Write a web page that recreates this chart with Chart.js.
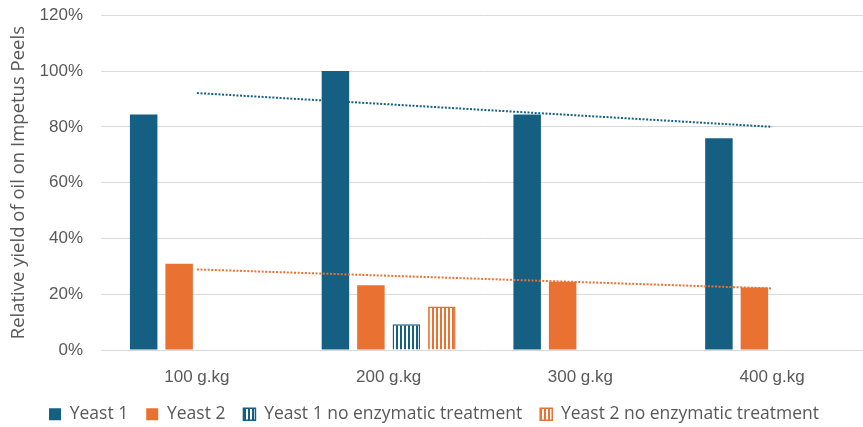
<!DOCTYPE html>
<html><head><meta charset="utf-8">
<script src="https://cdn.jsdelivr.net/npm/chart.js@4"></script>
<style>
html,body{margin:0;padding:0;background:#fff;overflow:hidden}
#wrap{width:863px;height:427px;overflow:hidden;position:relative}
#box{width:873px;height:440px;position:absolute;left:0;top:-13px}
</style></head><body>
<div id="wrap"><div id="box"><canvas id="c"></canvas></div></div>
<script>
const categories = ['100 g.kg', '200 g.kg', '300 g.kg', '400 g.kg'];
const yeast1 = [84.4, 100, 84.4, 75.9];
const yeast2 = [30.9, 23.2, 24.5, 22.4];
const yeast1NoEnz = [null, 9.3, null, null];
const yeast2NoEnz = [null, 15.6, null, null];
const trendYeast1 = [92.1, null, null, 80.0];
const trendYeast2 = [28.9, null, null, 22.1];
const yMin = 0, yMax = 120, yStep = 20;

const BLUE = '#156082', ORANGE = '#E97132', TEXT = '#595959';
function stripes(color) {
  const c = document.createElement('canvas');
  c.width = 4; c.height = 4;
  const x = c.getContext('2d');
  x.fillStyle = '#ffffff'; x.fillRect(0, 0, 4, 4);
  x.fillStyle = color; x.fillRect(0, 0, 2, 4);
  return x.createPattern(c, 'repeat');
}
Chart.defaults.font.family = "'Liberation Sans', Arial, sans-serif";
Chart.defaults.color = TEXT;
const WIDE = "'Open Sans', 'Liberation Sans', sans-serif";

new Chart(document.getElementById('c'), {
  type: 'bar',
  data: {
    labels: categories,
    datasets: [
      { label: 'Yeast 1', data: yeast1, backgroundColor: BLUE, borderWidth: 0, order: 1 },
      { label: 'Yeast 2', data: yeast2, backgroundColor: ORANGE, borderWidth: 0, order: 1 },
      { label: 'Yeast 1 no enzymatic treatment', data: yeast1NoEnz, backgroundColor: stripes(BLUE), borderColor: BLUE, borderWidth: 1.5, order: 1 },
      { label: 'Yeast 2 no enzymatic treatment', data: yeast2NoEnz, backgroundColor: stripes(ORANGE), borderColor: ORANGE, borderWidth: 1.5, order: 1 },
      { type: 'line', label: 'Linear (Yeast 1)', data: trendYeast1, borderColor: BLUE, borderWidth: 2, borderDash: [2, 1.6], pointRadius: 0, spanGaps: true, fill: false, order: 0 },
      { type: 'line', label: 'Linear (Yeast 2)', data: trendYeast2, borderColor: ORANGE, borderWidth: 2, borderDash: [2, 1.6], pointRadius: 0, spanGaps: true, fill: false, order: 0 }
    ]
  },
  options: {
    responsive: true,
    maintainAspectRatio: false,
    animation: false,
    datasets: { bar: { barPercentage: 0.775, categoryPercentage: 0.74 } },
    layout: { padding: { left: 0, right: 5, top: 0, bottom: -6 } },
    plugins: {
      tooltip: { enabled: false },
      legend: {
        position: 'bottom',
        labels: {
          boxWidth: 12, boxHeight: 12, padding: 18,
          font: { size: 17.5, family: WIDE }, color: TEXT,
          filter: (item) => item.datasetIndex < 4
        }
      }
    },
    scales: {
      x: {
        afterFit: (s) => { s.height = s.height - 17; },
        grid: { display: false, drawTicks: false },
        border: { display: false },
        ticks: { font: { size: 17 }, color: TEXT, padding: 17 }
      },
      y: {
        min: yMin, max: yMax,
        afterFit: (s) => { s.width = 101; },
        ticks: { stepSize: yStep, font: { size: 17 }, color: TEXT, padding: 18, callback: (v) => v + '%' },
        grid: { color: '#d9d9d9', lineWidth: 1, drawTicks: false },
        border: { display: false },
        title: { display: true, text: 'Relative yield of oil on Impetus Peels', font: { size: 18.5, family: WIDE }, color: TEXT, padding: { top: 8, bottom: 0 } }
      }
    }
  }
});
</script>
</body></html>
